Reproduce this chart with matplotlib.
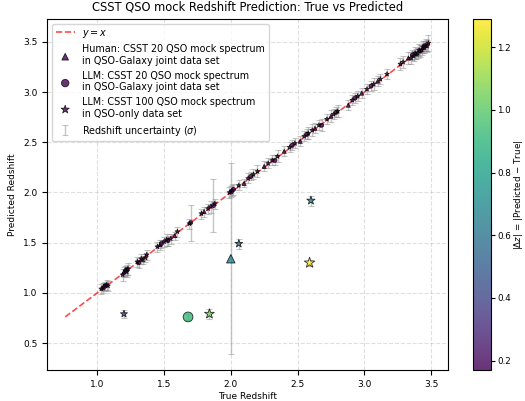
import matplotlib
matplotlib.use('Agg')
import matplotlib.pyplot as plt
import numpy as np

# Human: CSST 20 QSO (QSO-Galaxy joint)
tri_true = [1.04, 1.20, 1.34, 1.47, 1.58, 1.80, 2.00, 2.10, 2.25, 2.40, 2.52, 2.63, 2.75, 2.88, 2.98, 3.10, 3.33, 3.39, 3.46, 2.00]
tri_pred = [1.05, 1.21, 1.33, 1.48, 1.57, 1.81, 2.01, 2.09, 2.26, 2.41, 2.51, 2.64, 2.76, 2.87, 2.99, 3.11, 3.34, 3.38, 3.47, 1.34]
tri_err = [0.05, 0.05, 0.04, 0.05, 0.04, 0.05, 0.05, 0.04, 0.05, 0.05, 0.05, 0.05, 0.06, 0.05, 0.05, 0.05, 0.06, 0.05, 0.06, 0.95]

# LLM: CSST 20 QSO (QSO-Galaxy joint)
cir_true = [1.06, 1.22, 1.31, 1.48, 1.53, 1.70, 1.87, 2.02, 2.15, 2.33, 2.46, 2.57, 2.68, 2.79, 2.93, 3.05, 3.36, 3.42, 3.45, 1.68]
cir_pred = [1.07, 1.23, 1.30, 1.49, 1.52, 1.70, 1.87, 2.03, 2.16, 2.32, 2.47, 2.58, 2.67, 2.80, 2.94, 3.06, 3.37, 3.41, 3.46, 0.76]
cir_err = [0.04, 0.05, 0.05, 0.04, 0.05, 0.18, 0.26, 0.05, 0.04, 0.05, 0.05, 0.05, 0.06, 0.05, 0.05, 0.05, 0.05, 0.06, 0.05, 0.03]

# LLM: CSST 100 QSO (QSO-only)
star_true = [1.03, 1.05, 1.07, 1.08, 1.19, 1.21, 1.22, 1.23, 1.30, 1.33, 1.36, 1.37,
             1.45, 1.50, 1.52, 1.55, 1.60, 1.69, 1.78, 1.83, 1.85, 1.88, 1.99, 2.01,
             2.06, 2.13, 2.17, 2.20, 2.28, 2.31, 2.35, 2.44, 2.48, 2.55, 2.58, 2.61,
             2.66, 2.72, 2.77, 2.80, 2.91, 2.95, 3.02, 3.07, 3.12, 3.17, 3.27, 3.29,
             3.35, 3.37, 3.38, 3.40, 3.41, 3.43, 3.44, 3.45, 3.47, 3.48,
             1.20, 1.84, 2.06, 2.60, 2.59]
star_pred = [1.04, 1.06, 1.08, 1.07, 1.18, 1.22, 1.21, 1.24, 1.31, 1.34, 1.35, 1.38,
             1.46, 1.51, 1.53, 1.54, 1.61, 1.69, 1.79, 1.84, 1.86, 1.89, 2.00, 2.02,
             2.07, 2.14, 2.18, 2.21, 2.29, 2.32, 2.36, 2.45, 2.49, 2.56, 2.59, 2.62,
             2.67, 2.73, 2.78, 2.81, 2.92, 2.96, 3.03, 3.08, 3.13, 3.18, 3.28, 3.30,
             3.34, 3.36, 3.39, 3.39, 3.42, 3.42, 3.45, 3.44, 3.46, 3.49,
             0.79, 0.79, 1.49, 1.92, 1.30]
star_err = [0.05, 0.04, 0.05, 0.05, 0.06, 0.05, 0.05, 0.06, 0.05, 0.05, 0.04, 0.05,
            0.05, 0.05, 0.06, 0.05, 0.05, 0.05, 0.05, 0.05, 0.06, 0.05, 0.05, 0.05,
            0.05, 0.05, 0.05, 0.06, 0.05, 0.05, 0.06, 0.05, 0.05, 0.05, 0.06, 0.06,
            0.05, 0.05, 0.05, 0.06, 0.05, 0.05, 0.05, 0.06, 0.05, 0.05, 0.06, 0.06,
            0.06, 0.05, 0.06, 0.05, 0.06, 0.05, 0.06, 0.05, 0.06, 0.08,
            0.04, 0.05, 0.05, 0.05, 0.03]

fig = plt.figure(figsize=(5.25, 4.01), dpi=100)
ax = fig.add_axes([0.0895, 0.0773, 0.7638, 0.8753])
cax = fig.add_axes([0.900, 0.0773, 0.035, 0.8753])

vmin, vmax = 0.17, 1.29
cmap = 'viridis'

all_true = tri_true + cir_true + star_true
all_pred = tri_pred + cir_pred + star_pred
all_err = tri_err + cir_err + star_err

eb = ax.errorbar(all_true, all_pred, yerr=all_err, fmt='none', ecolor='gray',
                 alpha=0.45, capsize=2, elinewidth=1, capthick=0.8, zorder=1,
                 label=r'Redshift uncertainty ($\sigma$)')

lo = min(min(all_true), min(all_pred))
hi = max(max(all_true), max(all_pred))
line, = ax.plot([lo, hi], [lo, hi], 'r--', alpha=0.7, lw=1.2, label='$y = x$', zorder=2)

groups = [
    (tri_true, tri_pred, '^', 'Human: CSST 20 QSO mock spectrum\nin QSO-Galaxy joint data set'),
    (cir_true, cir_pred, 'o', 'LLM: CSST 20 QSO mock spectrum\nin QSO-Galaxy joint data set'),
    (star_true, star_pred, '*', 'LLM: CSST 100 QSO mock spectrum\nin QSO-only data set'),
]
handles = [line]
for t, p, m, lab in groups:
    t = np.array(t)
    p = np.array(p)
    dz = np.abs(p - t)
    size = 8 + 45 * dz
    if m == '*':
        size = 12 + 40 * dz
    sc = ax.scatter(t, p, c=dz, cmap=cmap, vmin=vmin, vmax=vmax, marker=m, s=size,
                    edgecolors='black', linewidths=0.6, alpha=0.8, zorder=3, label=lab)
    handles.append(sc)
handles.append(eb)

cb = fig.colorbar(sc, cax=cax)
cb.set_label(r'$|\Delta z|$ = |Predicted $-$ True|', fontsize=6.3, labelpad=1)
cb.ax.tick_params(labelsize=6.3, length=3, pad=1.5)

ax.set_xlabel('True Redshift', fontsize=6.5, labelpad=2)
ax.set_ylabel('Predicted Redshift', fontsize=6.5, labelpad=4)
ax.set_title('CSST QSO mock Redshift Prediction: True vs Predicted', fontsize=8.3)
ax.tick_params(labelsize=6.5)
ax.grid(True, linestyle='--', alpha=0.4)
ax.legend(handles=handles, loc='upper left', fontsize=6.9)

fig.savefig('out.png', dpi=100)
